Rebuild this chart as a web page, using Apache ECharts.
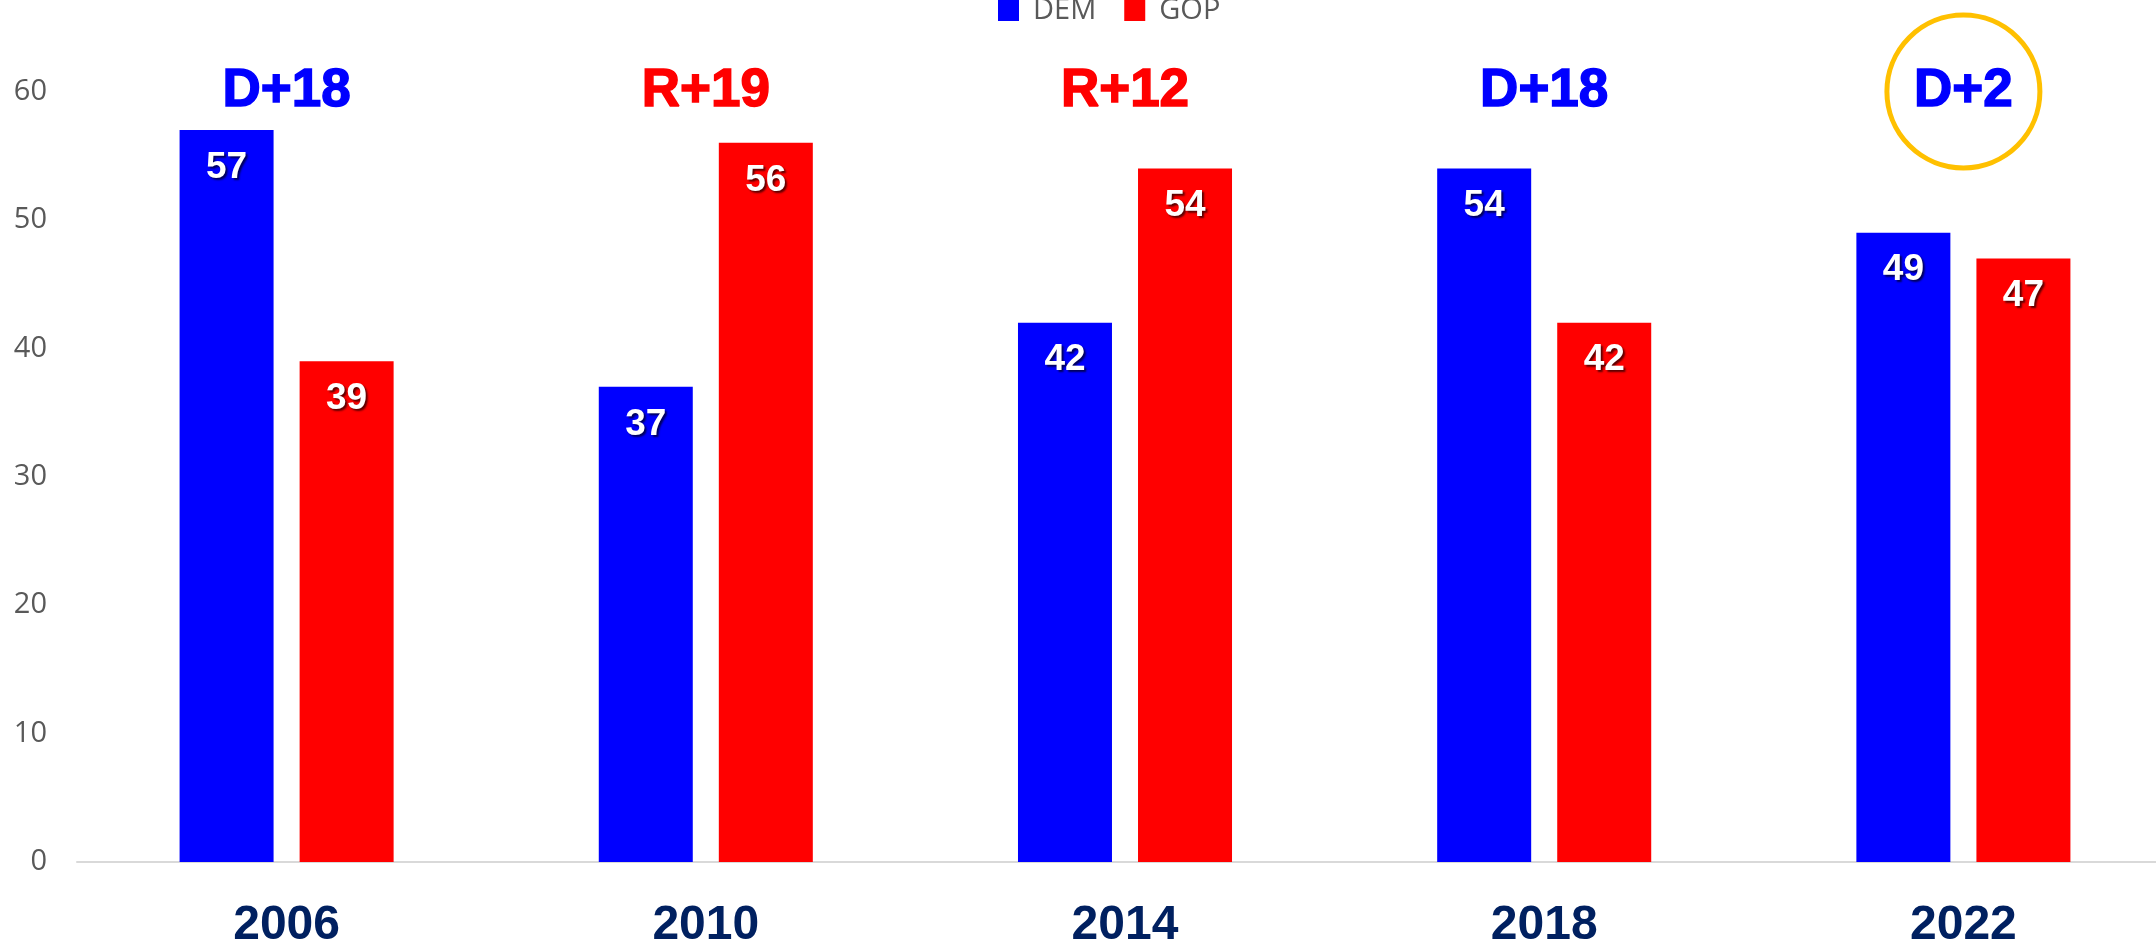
<!DOCTYPE html>
<html>
<head>
<meta charset="utf-8">
<script src="https://cdn.jsdelivr.net/npm/echarts@6/dist/echarts.min.js"></script>
<style>
html,body{margin:0;padding:0;background:#fff;}
#chart{width:2156px;height:949px;}
</style>
</head>
<body>
<div id="chart"></div>
<script>
// ---- data ----
var years = ['2006', '2010', '2014', '2018', '2022'];
var demValues = [57, 37, 42, 54, 49];
var gopValues = [39, 56, 54, 42, 47];
var marginLabels = ['D+18', 'R+19', 'R+12', 'D+18', 'D+2'];
var marginParty = ['DEM', 'GOP', 'GOP', 'DEM', 'DEM'];
var circledYears = ['2022'];
var yTicks = [0, 10, 20, 30, 40, 50, 60];

var partyColor = { DEM: '#0000FF', GOP: '#FF0000' };
var labelLevel = yTicks[yTicks.length - 1];

var chart = echarts.init(document.getElementById('chart'));

var valueLabel = {
  show: true,
  position: 'insideTop',
  distance: 19,
  color: '#ffffff',
  fontFamily: 'Liberation Sans, Arial, sans-serif',
  fontWeight: 'bold',
  fontSize: 37,
  textShadowColor: 'rgba(0,0,0,0.65)',
  textShadowBlur: 2,
  textShadowOffsetX: 2,
  textShadowOffsetY: 2
};

chart.setOption({
  animation: false,
  backgroundColor: '#ffffff',
  legend: {
    data: ['DEM', 'GOP'],
    left: 993,
    top: -9,
    itemWidth: 21,
    itemHeight: 21,
    itemGap: 28,
    icon: 'rect',
    textStyle: {
      fontFamily: 'Open Sans, sans-serif',
      fontSize: 29,
      color: '#595959',
      padding: [0, 0, 0, 9]
    }
  },
  grid: {
    left: 77, top: 91.5, width: 2096, height: 770.5,
    containLabel: false,
    outerBoundsMode: 'none'
  },
  xAxis: {
    type: 'category',
    data: years,
    axisTick: { show: false },
    axisLine: { show: true, lineStyle: { color: '#d9d9d9', width: 2 } },
    axisLabel: {
      margin: 40,
      fontFamily: 'Liberation Sans, Arial, sans-serif',
      fontWeight: 'bold',
      fontSize: 48,
      color: '#002060'
    }
  },
  yAxis: {
    type: 'value',
    min: yTicks[0],
    max: yTicks[yTicks.length - 1],
    interval: yTicks[1] - yTicks[0],
    splitLine: { show: false },
    axisLine: { show: false },
    axisTick: { show: false },
    axisLabel: {
      margin: 30,
      fontFamily: 'Open Sans, sans-serif',
      fontSize: 29,
      color: '#595959'
    }
  },
  series: [
    {
      name: 'DEM',
      type: 'bar',
      data: demValues,
      barWidth: 94,
      barGap: '27.7%',
      itemStyle: { color: partyColor.DEM },
      label: valueLabel
    },
    {
      name: 'GOP',
      type: 'bar',
      data: gopValues,
      barWidth: 94,
      barGap: '27.7%',
      itemStyle: { color: partyColor.GOP },
      label: valueLabel
    },
    {
      name: 'circle',
      type: 'scatter',
      clip: false,
      silent: true,
      z: 3,
      symbol: 'circle',
      symbolSize: 153,
      itemStyle: { color: 'rgba(0,0,0,0)', borderColor: '#FFC000', borderWidth: 5, opacity: 1 },
      data: circledYears.map(function (y) { return [y, labelLevel]; })
    },
    {
      name: 'margin',
      type: 'scatter',
      clip: false,
      silent: true,
      z: 4,
      symbolSize: 1,
      itemStyle: { color: 'rgba(0,0,0,0)', opacity: 1 },
      data: years.map(function (y, i) {
        return {
          value: [y, labelLevel],
          label: {
            show: true,
            position: 'inside',
            formatter: marginLabels[i],
            color: partyColor[marginParty[i]],
            fontFamily: 'Liberation Sans, Arial, sans-serif',
            fontWeight: 900,
            fontSize: 53,
            textBorderColor: partyColor[marginParty[i]],
            textBorderWidth: 1.5
          }
        };
      })
    }
  ]
});
</script>
</body>
</html>
